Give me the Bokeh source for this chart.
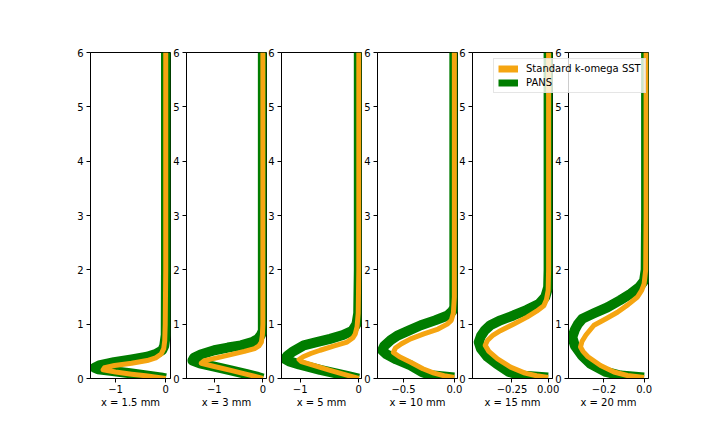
from bokeh.plotting import figure
from bokeh.layouts import row
from bokeh.models import Range1d, FixedTicker, Legend, LegendItem
from bokeh.embed import file_html
from bokeh.resources import INLINE

# ---------------- data ----------------
stations = ["x = 1.5 mm", "x = 3 mm", "x = 5 mm", "x = 10 mm", "x = 15 mm", "x = 20 mm"]
series_names = ["Standard k-omega SST", "PANS"]

# x = 1.5 mm
sst_y_x1p5 = [0, 0.02, 0.05, 0.08, 0.12, 0.16, 0.20, 0.24, 0.28, 0.33, 0.38, 0.45, 0.55, 0.7, 1.0, 2.0, 3.0, 4.0, 5.0, 6.0]
sst_u_x1p5 = [0, -0.15, -0.4, -0.68, -1.0, -1.25, -1.22, -1.02, -0.68, -0.37, -0.2, -0.09, -0.04, -0.02, -0.01, 0, 0, 0, 0, 0]
pans_y_x1p5 = [0, 0.02, 0.05, 0.1, 0.14, 0.17, 0.2, 0.24, 0.3, 0.35, 0.4, 0.45, 0.52, 0.6, 0.8, 2.0, 3.0, 4.0, 5.0, 6.0]
pans_u_x1p5 = [0, -0.1, -0.35, -0.75, -1.1, -1.35, -1.42, -1.33, -1.03, -0.68, -0.37, -0.2, -0.07, -0.03, 0.0, 0.005, 0.005, 0.005, 0.005, 0.005]

# x = 3 mm
sst_y_x3 = [0, 0.03, 0.08, 0.15, 0.22, 0.28, 0.33, 0.38, 0.44, 0.5, 0.55, 0.6, 0.67, 0.8, 1.0, 2.0, 3.0, 4.0, 5.0, 6.0]
sst_u_x3 = [0, -0.12, -0.35, -0.66, -1.0, -1.27, -1.2, -0.95, -0.66, -0.38, -0.17, -0.08, -0.03, -0.01, 0, 0, 0, 0, 0, 0]
pans_y_x3 = [0, 0.03, 0.08, 0.15, 0.22, 0.28, 0.33, 0.38, 0.44, 0.52, 0.57, 0.61, 0.67, 0.73, 0.8, 0.88, 1.0, 2.0, 3.0, 4.0, 5.0, 6.0]
pans_u_x3 = [0, -0.1, -0.33, -0.66, -1.0, -1.3, -1.45, -1.42, -1.28, -1.0, -0.72, -0.45, -0.22, -0.1, -0.04, 0, 0, 0, 0, 0, 0, 0]

# x = 5 mm
sst_y_x5 = [0, 0.05, 0.15, 0.25, 0.31, 0.35, 0.4, 0.46, 0.52, 0.6, 0.67, 0.75, 0.82, 0.95, 1.2, 2.0, 3.0, 4.0, 5.0, 6.0]
sst_u_x5 = [0, -0.16, -0.49, -0.8, -0.98, -1.02, -0.95, -0.82, -0.66, -0.42, -0.2, -0.1, -0.06, -0.03, -0.01, 0, 0, 0, 0, 0]
pans_y_x5 = [0, 0.05, 0.16, 0.26, 0.32, 0.36, 0.42, 0.5, 0.61, 0.67, 0.73, 0.8, 0.88, 1.0, 1.2, 2.0, 3.0, 4.0, 5.0, 6.0]
pans_u_x5 = [0, -0.2, -0.66, -1.02, -1.2, -1.26, -1.22, -1.12, -0.94, -0.72, -0.49, -0.27, -0.11, -0.04, -0.01, 0, 0, 0, 0, 0]

# x = 10 mm
sst_y_x10 = [0.02, 0.05, 0.1, 0.18, 0.3, 0.4, 0.48, 0.56, 0.64, 0.73, 0.82, 0.91, 1.0, 1.07, 1.2, 1.5, 2.0, 3.0, 4.0, 5.0, 6.0]
sst_u_x10 = [0, -0.1, -0.2, -0.31, -0.43, -0.54, -0.6, -0.58, -0.52, -0.43, -0.3, -0.16, -0.07, -0.03, -0.01, 0, 0, 0, 0, 0, 0]
pans_y_x10 = [0.02, 0.06, 0.12, 0.24, 0.35, 0.45, 0.52, 0.6, 0.7, 0.79, 0.88, 0.98, 1.07, 1.16, 1.24, 1.31, 1.5, 2.0, 3.0, 4.0, 5.0, 6.0]
pans_u_x10 = [0, -0.23, -0.32, -0.43, -0.57, -0.67, -0.71, -0.69, -0.63, -0.56, -0.45, -0.33, -0.19, -0.065, -0.02, 0, 0, 0, 0, 0, 0, 0]

# x = 15 mm
sst_y_x15 = [0.02, 0.05, 0.1, 0.21, 0.36, 0.5, 0.61, 0.7, 0.8, 0.88, 1.0, 1.13, 1.24, 1.34, 1.45, 1.62, 2.0, 3.0, 4.0, 5.0, 6.0]
sst_u_x15 = [0, -0.08, -0.16, -0.26, -0.35, -0.41, -0.435, -0.42, -0.38, -0.33, -0.24, -0.146, -0.08, -0.03, -0.012, 0, 0.003, 0.003, 0.003, 0.003, 0.003]
pans_y_x15 = [0.02, 0.055, 0.12, 0.27, 0.4, 0.55, 0.67, 0.78, 0.88, 0.98, 1.07, 1.16, 1.26, 1.37, 1.5, 1.68, 2.0, 3.0, 4.0, 5.0, 6.0]
pans_u_x15 = [0, -0.19, -0.27, -0.356, -0.42, -0.465, -0.48, -0.465, -0.44, -0.40, -0.33, -0.24, -0.15, -0.065, -0.02, 0, 0.003, 0.003, 0.003, 0.003, 0.003]

# x = 20 mm
sst_y_x20 = [0.02, 0.055, 0.12, 0.24, 0.4, 0.5, 0.58, 0.68, 0.8, 0.98, 1.1, 1.22, 1.36, 1.5, 1.62, 1.74, 2.0, 3.0, 4.0, 5.0, 6.0]
sst_u_x20 = [0, -0.083, -0.15, -0.217, -0.28, -0.305, -0.317, -0.31, -0.29, -0.25, -0.19, -0.133, -0.08, -0.033, -0.012, 0, 0.008, 0.01, 0.01, 0.01, 0.01]
pans_y_x20 = [0.02, 0.055, 0.12, 0.27, 0.42, 0.6, 0.76, 0.9, 1.0, 1.1, 1.2, 1.31, 1.44, 1.56, 1.68, 1.8, 2.0, 3.0, 4.0, 5.0, 6.0]
pans_u_x20 = [0, -0.117, -0.19, -0.267, -0.31, -0.345, -0.358, -0.345, -0.33, -0.308, -0.25, -0.183, -0.12, -0.067, -0.025, 0, 0.008, 0.01, 0.01, 0.01, 0.01]

sst_y = [sst_y_x1p5, sst_y_x3, sst_y_x5, sst_y_x10, sst_y_x15, sst_y_x20]
sst_u = [sst_u_x1p5, sst_u_x3, sst_u_x5, sst_u_x10, sst_u_x15, sst_u_x20]
pans_y = [pans_y_x1p5, pans_y_x3, pans_y_x5, pans_y_x10, pans_y_x15, pans_y_x20]
pans_u = [pans_u_x1p5, pans_u_x3, pans_u_x5, pans_u_x10, pans_u_x15, pans_u_x20]

x_limits = [(-1.5, 0.095), (-1.573, 0.075), (-1.32, 0.046), (-0.756, 0.031), (-0.523, 0.030), (-0.377, 0.022)]
x_ticks = [[-1, 0], [-1, 0], [-1, 0], [-0.5, 0.0], [-0.25, 0.0], [-0.2, 0.0]]
x_tick_labels = [["\u22121", "0"], ["\u22121", "0"], ["\u22121", "0"],
                 ["\u22120.5", "0.0"], ["\u22120.25", "0.00"], ["\u22120.2", "0.0"]]
y_ticks = [0, 1, 2, 3, 4, 5, 6]
y_tick_labels = ["0", "1", "2", "3", "4", "5", "6"]

# ---------------- layout / style ----------------
FONT = "DejaVu Sans"
SST_COLOR = "#f5a511"
PANS_COLOR = "#007d00"
frame_lefts = [90, 186, 281, 377, 472, 568]
FRAME_W = 80
FRAME_H = 326
TOP_B = 52
BOT_B = 48
left_borders = [90, 20, 20, 20, 20, 20]
RIGHT_B = 12

figs = []
canvas_right_prev = 0
for i in range(6):
    L = left_borders[i]
    canvas_left = frame_lefts[i] - L
    ml = canvas_left - canvas_right_prev
    p = figure(frame_width=FRAME_W, frame_height=FRAME_H,
               x_range=Range1d(*x_limits[i]), y_range=Range1d(0, 6),
               output_backend="svg", toolbar_location=None,
               min_border_left=L, min_border_right=RIGHT_B,
               min_border_top=TOP_B, min_border_bottom=BOT_B,
               background_fill_color=None, border_fill_color=None,
               outline_line_color="black", outline_line_width=1,
               margin=(0, 0, 0, ml))
    canvas_right_prev = canvas_left + L + FRAME_W + RIGHT_B
    p.xgrid.visible = False
    p.ygrid.visible = False

    p.line(pans_u[i], pans_y[i], line_color=PANS_COLOR, line_width=10, line_join="round")
    p.line(sst_u[i], sst_y[i], line_color=SST_COLOR, line_width=5, line_join="round")

    p.xaxis.ticker = FixedTicker(ticks=x_ticks[i])
    p.xaxis.major_label_overrides = dict(zip(x_ticks[i], x_tick_labels[i]))
    p.yaxis.ticker = FixedTicker(ticks=y_ticks)
    p.yaxis.major_label_overrides = dict(zip(y_ticks, y_tick_labels))
    p.xaxis.axis_label = stations[i]
    for ax in (p.xaxis[0], p.yaxis[0]):
        ax.major_tick_out = 4
        ax.major_tick_in = 0
        ax.minor_tick_out = 0
        ax.minor_tick_in = 0
        ax.axis_line_color = "black"
        ax.major_tick_line_color = "black"
        ax.major_label_text_font = FONT
        ax.major_label_text_font_size = "10px"
        ax.major_label_text_color = "black"
        ax.axis_label_text_font = FONT
        ax.axis_label_text_font_size = "10px"
        ax.axis_label_text_font_style = "normal"
        ax.axis_label_text_color = "black"
    p.xaxis.major_label_standoff = 2
    p.xaxis.axis_label_standoff = 1
    p.yaxis.major_label_standoff = 3
    figs.append(p)

# legend: a transparent overlay figure, same height as the panels, lying over
# the upper right of the last panels.  Its legend renderers carry the last
# station's profiles, but its x range lies beyond them, so only the legend shows.
LEG_MARGIN = 6
LEG_FRAME_LEFT = 493 - LEG_MARGIN
lg = figure(frame_width=160, frame_height=FRAME_H, x_range=Range1d(1, 2), y_range=Range1d(0, 6),
            output_backend="svg", toolbar_location=None,
            x_axis_type=None, y_axis_type=None,
            min_border_left=0, min_border_right=0, min_border_top=TOP_B, min_border_bottom=BOT_B,
            background_fill_color=None, border_fill_color=None, outline_line_color=None,
            margin=(0, 0, 0, LEG_FRAME_LEFT - canvas_right_prev))
lg.grid.visible = False
r_sst = lg.line(sst_u[5], sst_y[5], line_color=SST_COLOR, line_width=7, line_cap="butt")
r_pans = lg.line(pans_u[5], pans_y[5], line_color=PANS_COLOR, line_width=7, line_cap="butt")
legend = Legend(items=[LegendItem(label=series_names[0], renderers=[r_sst]),
                       LegendItem(label=series_names[1], renderers=[r_pans])],
                location="top_left", orientation="vertical",
                label_text_font=FONT, label_text_font_size="10px", label_text_color="black",
                glyph_width=20, glyph_height=11, label_standoff=8, label_height=11,
                padding=4, spacing=3, margin=LEG_MARGIN,
                border_line_color="#cccccc", border_line_width=1,
                background_fill_color="white", background_fill_alpha=0.8)
lg.add_layout(legend)

layout = row(*figs, lg)
open("out.html", "w").write(file_html(layout, INLINE))
